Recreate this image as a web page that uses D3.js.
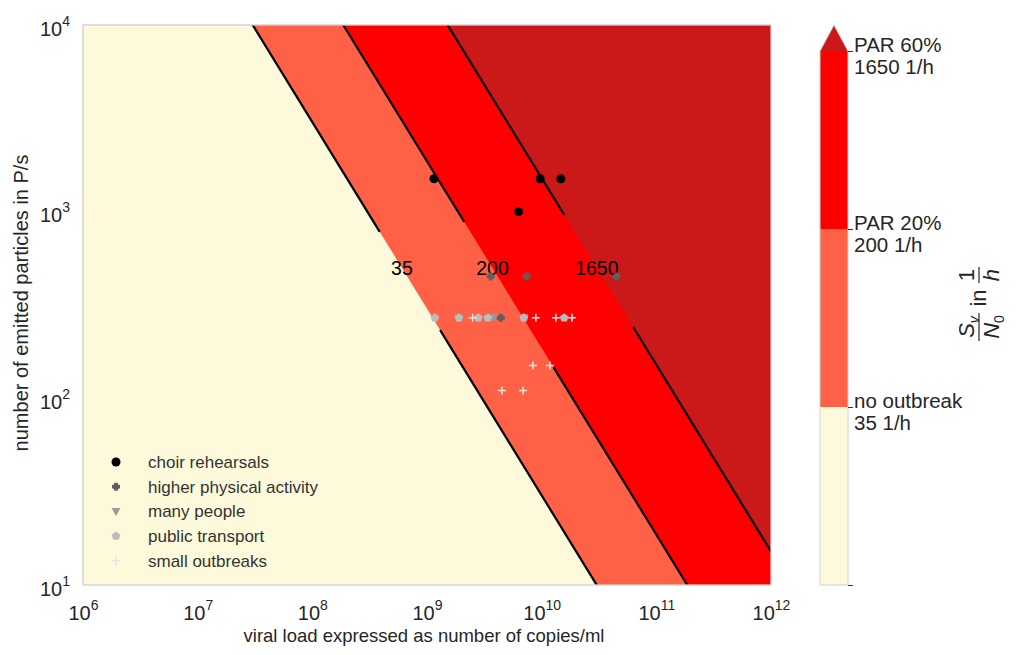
<!DOCTYPE html>
<html>
<head>
<meta charset="utf-8">
<script src="https://cdn.jsdelivr.net/npm/d3@7"></script>
<style>
  body { margin: 0; background: #fff; }
  text { font-family: "Liberation Sans", Arial, sans-serif; }
</style>
</head>
<body>
<div id="chart"></div>
<script>
// contour levels (S_v/N_0 in 1/h) and where each level line sits: log10(viral load) + log10(particles)
var levels = [35, 200, 1650];
var levelLogProduct = [11.48, 12.27, 13.18];
// inline label gaps along each contour line, in particles/s [upper, lower]
var labelGaps = [[780, 232], [880, 147], [960, 241]];
var labelParticles = 500;

var bandColors = ["#fdfadc", "#ff6146", "#ff0000", "#cb1819"];
var barLabels = [["PAR 60%", "1650 1/h"], ["PAR 20%", "200 1/h"], ["no outbreak", "35 1/h"]];

var xTicks = [1e6, 1e7, 1e8, 1e9, 1e10, 1e11, 1e12];
var yTicks = [1e1, 1e2, 1e3, 1e4];

// scenarios: [viral load copies/ml, emitted particles P/s]
var choir = [[1.15e9, 1500], [9.7e9, 1500], [1.47e10, 1500], [6.3e9, 1000]];
var physical = [[3.6e9, 450], [7.4e9, 450], [4.5e10, 450], [4.4e9, 270]];
var manyPeople = [[1.9e9, 270], [3.8e9, 270], [7.0e9, 270]];
var publicTransport = [[1.17e9, 270], [1.9e9, 270], [2.8e9, 270], [3.4e9, 270], [7.0e9, 270], [1.57e10, 270]];
var smallOutbreaks = [[2.5e9, 270], [8.9e9, 270], [1.33e10, 270], [1.84e10, 270],
                      [8.4e9, 150], [1.18e10, 150], [4.5e9, 110], [6.9e9, 110]];

var W = 1028, H = 655;
var margin = {top: 25, left: 83, right: 257, bottom: 70};
var width = W - margin.left - margin.right;   // 688
var height = H - margin.top - margin.bottom;  // 560

var svg = d3.select("#chart").append("svg")
  .attr("width", W).attr("height", H);

var g = svg.append("g")
  .attr("transform", "translate(" + margin.left + "," + margin.top + ")");

var x = d3.scaleLog().domain([1e6, 1e12]).range([0, width]);
var y = d3.scaleLog().domain([10, 1e4]).range([height, 0]);

g.append("clipPath").attr("id", "plotClip")
  .append("rect").attr("width", width).attr("height", height);

var plot = g.append("g").attr("clip-path", "url(#plotClip)");

/** filled bands **/
plot.append("rect").attr("width", width).attr("height", height).attr("fill", bandColors[0]);

levelLogProduct.forEach(function(c, i){
  // half plane log v + log p >= c
  var pts = [[c - 6, 6], [c + 1, -1], [14, -1], [14, 6]].map(function(p){
    return [x(Math.pow(10, p[0])), y(Math.pow(10, p[1]))];
  });
  plot.append("path")
    .attr("d", "M" + pts.join("L") + "Z")
    .attr("fill", bandColors[i + 1]);
});

/** contour lines with inline label gaps **/
var line = d3.line()
  .x(function(d){ return x(d[0]); })
  .y(function(d){ return y(d[1]); });

levelLogProduct.forEach(function(c, i){
  var vAt = function(p){ return Math.pow(10, c) / p; };
  var segs = [[1e5, labelGaps[i][0]], [labelGaps[i][1], 1]];
  segs.forEach(function(s){
    plot.append("path")
      .attr("d", line([[vAt(s[0]), s[0]], [vAt(s[1]), s[1]]]))
      .attr("fill", "none")
      .attr("stroke", "#000")
      .attr("stroke-width", 2.2);
  });
  plot.append("text")
    .attr("x", x(vAt(labelParticles)))
    .attr("y", y(labelParticles))
    .attr("dy", "0.35em")
    .attr("text-anchor", "middle")
    .attr("font-size", 19.5)
    .attr("fill", "#000")
    .text(levels[i]);
});

/** scatter **/
var octa = "M-1.6,-4L1.6,-4L2.2,-2.2L4,-1.6L4,1.6L2.2,2.2L1.6,4L-1.6,4L-2.2,2.2L-4,1.6L-4,-1.6L-2.2,-2.2Z";
var series = [
  {name: "choir rehearsals", data: choir, path: d3.symbol(d3.symbolCircle, 64)(), fill: "#000", stroke: "none"},
  {name: "higher physical activity", data: physical, path: octa, fill: "#5f5f5f", stroke: "none"},
  {name: "many people", data: manyPeople, path: "M-4.5,-3.5L4.5,-3.5L0,4.5Z", fill: "#9a9a9a", stroke: "none"},
  {name: "public transport", data: publicTransport, path: "M0,-4.6L4.4,-1.4L2.7,3.7L-2.7,3.7L-4.4,-1.4Z", fill: "#bcbcbc", stroke: "none"},
  {name: "small outbreaks", data: smallOutbreaks, path: "M-4,0L4,0M0,-4L0,4", fill: "none", stroke: "#e4e4e4"}
];

series.forEach(function(s){
  plot.selectAll(null).data(s.data).enter().append("path")
    .attr("transform", function(d){ return "translate(" + x(d[0]) + "," + y(d[1]) + ")"; })
    .attr("d", s.path)
    .attr("fill", s.fill)
    .attr("stroke", s.stroke)
    .attr("stroke-width", 1.5);
});

/** legend **/
var legend = g.append("g").attr("transform", "translate(33,437)");
series.forEach(function(s, i){
  var row = legend.append("g").attr("transform", "translate(0," + (i * 24.7) + ")");
  row.append("path").attr("d", s.path)
    .attr("fill", s.fill).attr("stroke", s.stroke).attr("stroke-width", 1.5);
  row.append("text").attr("x", 32).attr("dy", "0.35em")
    .attr("font-size", 17).attr("fill", "#333").text(s.name);
});

/** frame **/
g.append("rect").attr("width", width).attr("height", height)
  .attr("fill", "none").attr("stroke", "#cfcfcf").attr("stroke-width", 1.3);

/** axes **/
function powLabel(sel){
  sel.each(function(d){
    var t = d3.select(this);
    t.append("tspan").attr("font-size", 20).text("10");
    t.append("tspan").attr("font-size", 14).attr("dy", -10).text(Math.round(Math.log10(d)));
  });
}

var xAxis = g.append("g").attr("transform", "translate(0," + height + ")")
  .call(d3.axisBottom(x).tickValues(xTicks).tickSize(0).tickFormat(""));
xAxis.select(".domain").remove();
xAxis.selectAll(".tick").append("text")
  .attr("y", 35).attr("text-anchor", "middle").attr("fill", "#262626")
  .call(powLabel);

var yAxis = g.append("g")
  .call(d3.axisLeft(y).tickValues(yTicks).tickSize(0).tickFormat(""));
yAxis.select(".domain").remove();
yAxis.selectAll(".tick").append("text")
  .attr("x", -13).attr("y", 10).attr("text-anchor", "end").attr("fill", "#262626")
  .call(powLabel);

g.append("text")
  .attr("x", width / 2 - 3).attr("y", height + 57)
  .attr("text-anchor", "middle").attr("font-size", 18.5).attr("fill", "#262626")
  .text("viral load expressed as number of copies/ml");

g.append("text")
  .attr("transform", "translate(" + (-55) + "," + (height / 2 - 2) + ") rotate(-90)")
  .attr("text-anchor", "middle").attr("font-size", 20).attr("fill", "#262626")
  .text("number of emitted particles in P/s");

/** colorbar **/
var cb = svg.append("g").attr("transform", "translate(820,0)");
var cbW = 28;
var cbY = d3.scaleLinear().domain([0, 3]).range([585, 51]);

d3.range(3).forEach(function(i){
  cb.append("rect")
    .attr("x", 0).attr("width", cbW)
    .attr("y", cbY(i + 1)).attr("height", cbY(i) - cbY(i + 1))
    .attr("fill", bandColors[i]);
});
cb.append("path")
  .attr("d", "M0," + cbY(3) + "L" + cbW + "," + cbY(3) + "L" + (cbW / 2) + ",25Z")
  .attr("fill", bandColors[3]);
cb.append("path")
  .attr("d", "M0," + cbY(3) + "L" + (cbW / 2) + ",25L" + cbW + "," + cbY(3) + "L" + cbW + "," + cbY(0) + "L0," + cbY(0) + "Z")
  .attr("fill", "none").attr("stroke", "#d0d0d0").attr("stroke-width", 1);

var cbAxis = cb.append("g").attr("transform", "translate(" + cbW + ",0)")
  .call(d3.axisRight(cbY).tickValues([0, 1, 2, 3]).tickSize(5).tickFormat(""));
cbAxis.select(".domain").remove();
cbAxis.selectAll(".tick line").attr("stroke", "#333").attr("stroke-width", 1);

barLabels.forEach(function(lbl, i){
  var t = cb.append("text").attr("y", cbY(3 - i) + 1)
    .attr("font-size", 20.5).attr("fill", "#262626");
  t.append("tspan").attr("x", 34).text(lbl[0]);
  t.append("tspan").attr("x", 34).attr("dy", 22).text(lbl[1]);
});

// colorbar label: S_v / N_0 in 1 / h
var cl = svg.append("g").attr("transform", "translate(979,305) rotate(-90)");
var fs = 22;
function frac(gg, cx, halfW, top, topSub, bot, botSub, italicTop){
  var tt = gg.append("text").attr("x", cx).attr("y", -5).attr("text-anchor", "middle").attr("font-size", fs);
  tt.append("tspan").attr("font-style", italicTop ? "italic" : "normal").text(top);
  if (topSub) tt.append("tspan").attr("font-size", 14).attr("font-style", "italic").attr("dy", 5).text(topSub);
  var bt = gg.append("text").attr("x", cx).attr("y", 20).attr("text-anchor", "middle").attr("font-size", fs);
  bt.append("tspan").attr("font-style", "italic").text(bot);
  if (botSub) bt.append("tspan").attr("font-size", 14).attr("dy", 5).text(botSub);
  gg.append("line").attr("x1", cx - halfW).attr("x2", cx + halfW).attr("y1", 0).attr("y2", 0)
    .attr("stroke", "#262626").attr("stroke-width", 1.2);
}
frac(cl, -22, 14, "S", "v", "N", "0", true);
cl.append("text").attr("x", 7).attr("y", 7).attr("text-anchor", "middle").attr("font-size", fs).text("in");
frac(cl, 30, 8, "1", null, "h", null, false);
cl.selectAll("text").attr("fill", "#262626");
</script>
</body>
</html>
